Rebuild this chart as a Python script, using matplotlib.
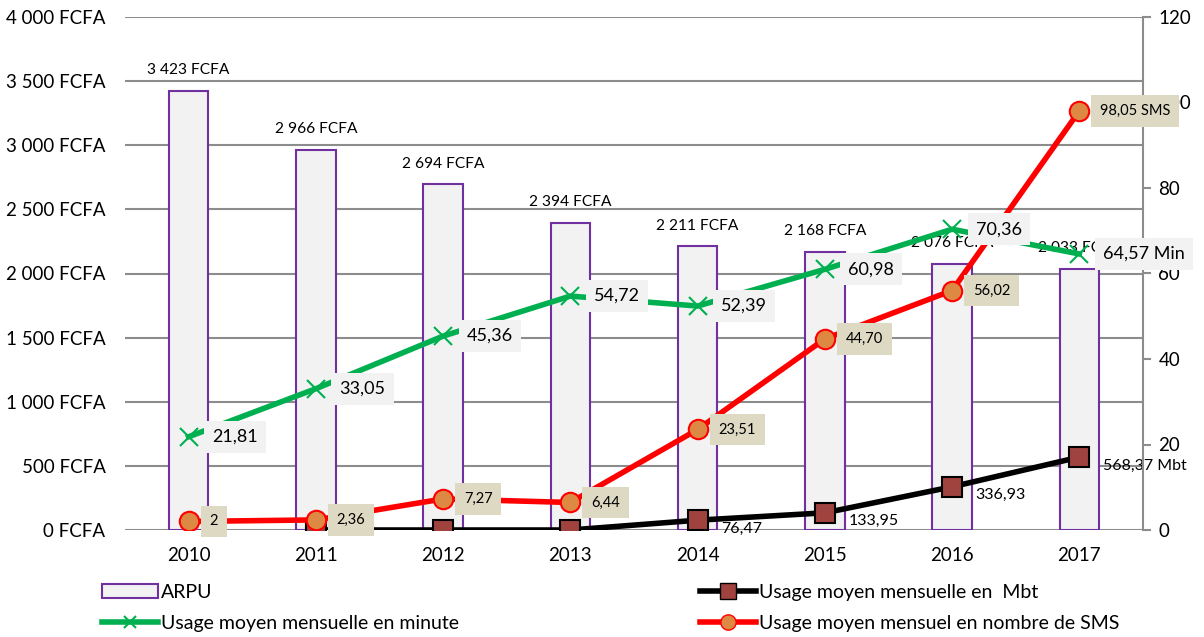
import matplotlib
matplotlib.use("Agg")
import matplotlib.pyplot as plt
from matplotlib.patches import Patch
from matplotlib.lines import Line2D

plt.rcParams['font.family'] = ['Lato', 'DejaVu Sans']

years = ["2010", "2011", "2012", "2013", "2014", "2015", "2016", "2017"]
arpu = [3423, 2966, 2694, 2394, 2211, 2168, 2076, 2033]
arpu_labels = ["3 423 FCFA", "2 966 FCFA", "2 694 FCFA", "2 394 FCFA",
               "2 211 FCFA", "2 168 FCFA", "2 076 FCFA", "2 033 FCFA"]
minutes = [21.81, 33.05, 45.36, 54.72, 52.39, 60.98, 70.36, 64.57]
minutes_labels = ["21,81", "33,05", "45,36", "54,72", "52,39", "60,98", "70,36", "64,57 Min"]
sms = [2, 2.36, 7.27, 6.44, 23.51, 44.70, 56.02, 98.05]
sms_labels = ["2", "2,36", "7,27", "6,44", "23,51", "44,70", "56,02", "98,05 SMS"]
mbt_years = ["2011", "2012", "2013", "2014", "2015", "2016", "2017"]
mbt = [0, 0, 0, 76.47, 133.95, 336.93, 568.37]
mbt_labels = ["", "", "", "76,47", "133,95", "336,93", "568,37 Mbt"]
left_ticks = [0, 500, 1000, 1500, 2000, 2500, 3000, 3500, 4000]
left_tick_labels = ["0 FCFA", "500 FCFA", "1 000 FCFA", "1 500 FCFA", "2 000 FCFA",
                    "2 500 FCFA", "3 000 FCFA", "3 500 FCFA", "4 000 FCFA"]
right_ticks = [0, 20, 40, 60, 80, 100, 120]

GREEN = "#00b050"
RED = "#ff0000"
ORANGE = "#dd8843"
BROWN = "#a0433f"
PURPLE = "#7030a0"
GRID = "#8c8c8c"

fig = plt.figure(figsize=(12.04, 6.37), dpi=100)
ax1 = fig.add_axes([125/1204, 1 - 530/637, (1143 - 125)/1204, (530 - 17)/637])
ax2 = ax1.twinx()

x = list(range(len(years)))
xm = [years.index(y) for y in mbt_years]

# Bars (ARPU)
ax1.bar(x, arpu, width=0.31, color="#f2f2f2", edgecolor=PURPLE, linewidth=1.5, zorder=2)
for xi, v, lab in zip(x, arpu, arpu_labels):
    ax1.annotate(lab, (xi, v), xytext=(0, 10), textcoords="offset points",
                 ha="center", va="bottom", fontsize=11.2, color="black", zorder=3)

# Mbt line on left axis
ax1.plot(xm, mbt, color="black", linewidth=4, marker="s", markersize=14,
         markerfacecolor=BROWN, markeredgecolor="black", markeredgewidth=1.5, zorder=4)
for xi, v, lab in zip(xm, mbt, mbt_labels):
    if lab:
        ax1.annotate(lab, (xi, v), xytext=(17, -6), textcoords="offset points",
                     ha="left", va="center", fontsize=11.5, color="black", zorder=5)

ax1.set_xlim(-0.5, len(years) - 0.5)
ax1.set_ylim(0, 4000)
ax1.set_yticks(left_ticks)
ax1.set_yticklabels(left_tick_labels, fontsize=13.5)
ax1.set_xticks(x)
ax1.set_xticklabels(years, fontsize=13.5)
ax1.tick_params(axis="x", length=0, pad=12)
ax1.tick_params(axis="y", length=0, pad=14)
ax1.yaxis.grid(True, color=GRID, linewidth=1.5, zorder=0)
ax1.set_axisbelow(True)
for s in ax1.spines.values():
    s.set_visible(False)

# Right axis lines
ax2.plot(x, minutes, color=GREEN, linewidth=4, marker="x", markersize=13,
         markeredgewidth=1.5, markeredgecolor=GREEN, zorder=3)
ax2.plot(x, sms, color=RED, linewidth=4, marker="o", markersize=14,
         markerfacecolor=ORANGE, markeredgecolor=RED, markeredgewidth=1.5, zorder=4)
for xi, v, lab in zip(x, minutes, minutes_labels):
    ax2.annotate(lab, (xi, v), xytext=(17, 0), textcoords="offset points",
                 ha="left", va="center", fontsize=13, color="black", zorder=6,
                 bbox=dict(boxstyle="square,pad=0.45", facecolor="#f2f2f2", edgecolor="none"))
for xi, v, lab in zip(x, sms, sms_labels):
    ax2.annotate(lab, (xi, v), xytext=(15, 0), textcoords="offset points",
                 ha="left", va="center", fontsize=10.5, color="black", zorder=6,
                 bbox=dict(boxstyle="square,pad=0.6", facecolor="#ddd9c3", edgecolor="none"))

ax2.set_ylim(0, 120)
ax2.set_yticks(right_ticks)
ax2.set_yticklabels([str(t) for t in right_ticks], fontsize=13.5)
ax2.tick_params(axis="y", length=6, width=1.5, color=GRID, pad=5)
for name, s in ax2.spines.items():
    s.set_visible(name == "right")
ax2.spines["right"].set_color(GRID)
ax2.spines["right"].set_linewidth(1.5)

# Legends
h_arpu = Patch(facecolor="#f2f2f2", edgecolor=PURPLE, linewidth=1.5, label="ARPU")
h_min = Line2D([], [], color=GREEN, linewidth=4, marker="x", markersize=9,
               markeredgewidth=1.5, label="Usage moyen mensuelle en minute")
h_mbt = Line2D([], [], color="black", linewidth=4, marker="s", markersize=11,
               markerfacecolor=BROWN, markeredgecolor="black",
               label="Usage moyen mensuelle en  Mbt")
h_sms = Line2D([], [], color=RED, linewidth=4, marker="o", markersize=11,
               markerfacecolor=ORANGE, markeredgecolor=RED,
               label="Usage moyen mensuel en nombre de SMS")

leg1 = fig.legend(handles=[h_arpu, h_min], loc="upper left",
                  bbox_to_anchor=(102/1204, 1 - 584/637), frameon=False,
                  fontsize=14, handlelength=2.9, handletextpad=0.15,
                  labelspacing=0.7, borderpad=0, borderaxespad=0)
leg2 = fig.legend(handles=[h_mbt, h_sms], loc="upper left",
                  bbox_to_anchor=(700/1204, 1 - 584/637), frameon=False,
                  fontsize=14, handlelength=2.9, handletextpad=0.15,
                  labelspacing=0.7, borderpad=0, borderaxespad=0)

fig.savefig("out.png", dpi=100)
